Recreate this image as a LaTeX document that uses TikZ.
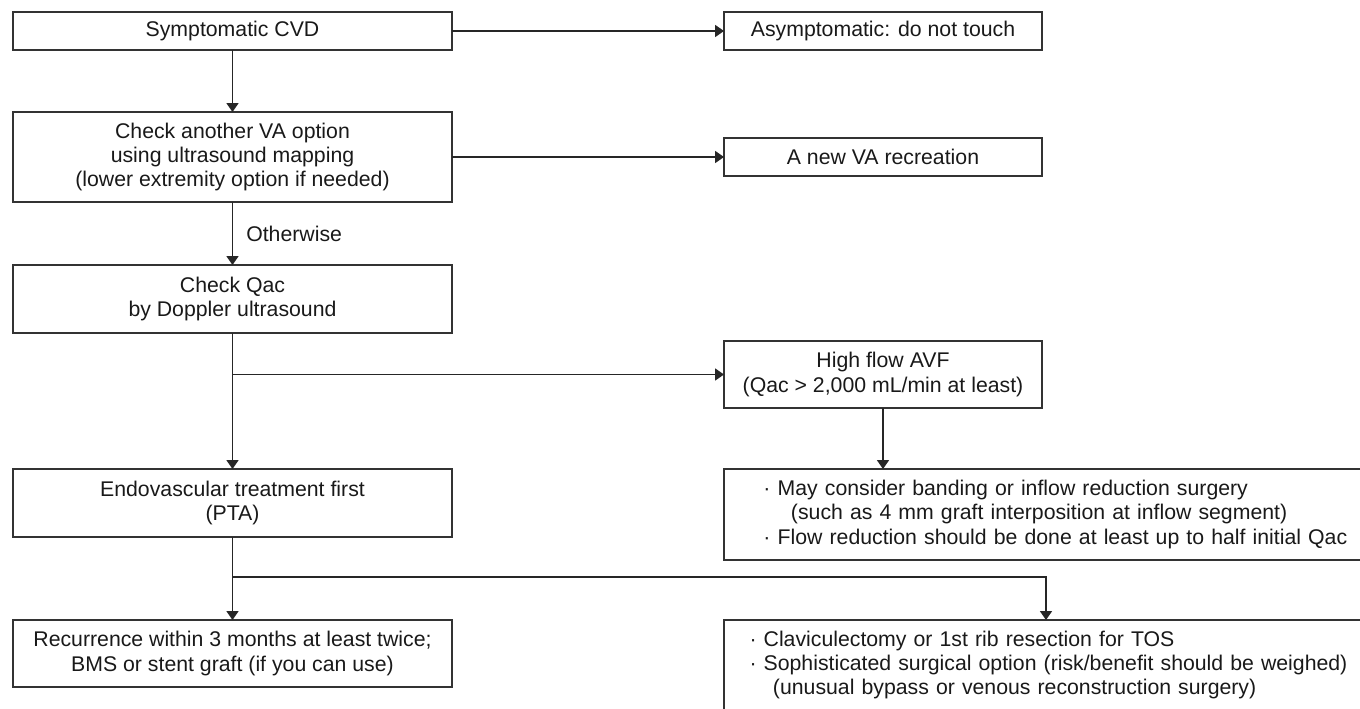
\documentclass[tikz,border=0pt]{standalone}
\usepackage{fontspec}
\setmainfont{Liberation Sans}
\usetikzlibrary{arrows.meta}

\begin{document}
\begin{tikzpicture}[x=0.02cm,y=-0.02cm,
	every node/.style={font=\fontsize{12.1pt}{13.7pt}\selectfont,text=black!90},
	lbox/.style={draw=black!80,line width=1.1pt,inner sep=0pt,outer sep=0pt,align=center,minimum width=8.78cm,minimum height=#1},
	rbox/.style={draw=black!80,line width=1.1pt,inner sep=0pt,outer sep=0pt,align=center,minimum width=6.36cm,minimum height=#1},
	note/.style={draw=black!80,line width=1.1pt,anchor=north west,inner ysep=0pt,inner xsep=#1,outer sep=0pt,text width=12cm,align=left},
	flow/.style={draw=black!85,line width=1pt,-{Triangle[length=0.18cm,width=0.24cm]}}]
\useasboundingbox (0,0) rectangle (1360,708);
\clip (0,0) rectangle (1360,708);

% left column
\node[lbox=0.76cm] (sym) at (232.5,31) {Symptomatic CVD};
\node[lbox=1.8cm] (check) at (232.5,157) {Check another VA option\\using ultrasound mapping\\(lower extremity option if needed)};
\node[lbox=1.36cm] (qac) at (232.5,299) {Check Qac\\by Doppler ultrasound};
\node[lbox=1.36cm] (endo) at (232.5,503) {Endovascular treatment first\\(PTA)};
\node[lbox=1.34cm] (recur) at (232.5,653.5) {Recurrence within 3 months at least twice;\\BMS or stent graft (if you can use)};

% right column
\node[rbox=0.76cm] (asym) at (883,31) {Asymptomatic: do not touch};
\node[rbox=0.76cm] (newva) at (883,157) {A new VA recreation};
\node[rbox=1.34cm] (high) at (883,374.5) {High flow AVF\\(Qac > 2,000 mL/min at least)};
\node[note=0.79cm,minimum height=1.82cm] (band) at (724,469) {· May consider banding or inflow reduction surgery\\
	\hspace*{0.55cm}(such as 4 mm graft interposition at inflow segment)\\
	· Flow reduction should be done at least up to half initial Qac};
\node[note=0.51cm,minimum height=1.8cm] (tos) at (724,620) {· Claviculectomy or 1st rib resection for TOS\\
	· Sophisticated surgical option (risk/benefit should be weighed)\\
	\hspace*{0.47cm}(unusual bypass or venous reconstruction surgery)};

\coordinate (j1) at (qac.south |- high.west);
\coordinate (j2) at (232.5,577);
\coordinate (j3) at (1046,577);

\draw[flow] (sym) -- (asym);
\draw[flow] (sym) -- (check);
\draw[flow] (check) -- (newva);
\draw[flow] (check) -- node[right,xshift=4pt] (ow) {Otherwise} (qac);
\draw[flow] (qac) -- (endo);
\draw[flow] (j1) -- (high);
\draw[flow] (high) -- (high |- band.north);
\draw[flow] (endo) -- (recur);
\draw[flow] (j2) -- (j3) -- (j3 |- tos.north);
\end{tikzpicture}
\end{document}
